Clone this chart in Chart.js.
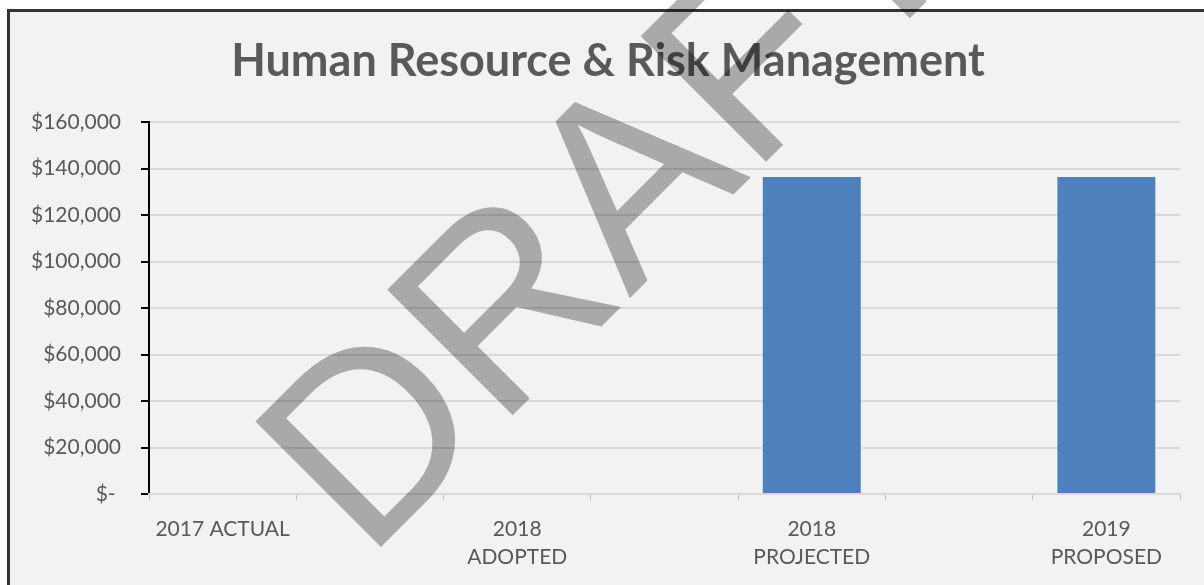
<!DOCTYPE html>
<html>
<head>
<meta charset="utf-8">
<script src="https://cdn.jsdelivr.net/npm/chart.js@4.4.1/dist/chart.umd.min.js"></script>
<style>
    html, body { margin: 0; padding: 0; background: #fff; overflow: hidden; width: 1204px; height: 585px; }
    .frame {
        position: absolute; left: 7px; top: 9px; width: 1220px; height: 600px;
        background: #f2f2f2; border-top: 3px solid #333; border-left: 3px solid #333;
    }
    .chart-box { position: absolute; left: 0; top: 0; width: 1204px; height: 585px; }
</style>
</head>
<body>
<div class="frame"></div>
<div class="chart-box"><canvas id="hrChart"></canvas></div>
<script>
// Chart data
const chartTitle = 'Human Resource & Risk Management';
const categories = ['2017 ACTUAL', '', ['2018', 'ADOPTED'], '', ['2018', 'PROJECTED'], '', ['2019', 'PROPOSED']];
const budgetValues = [0, null, 0, null, 136300, null, 136300];
const yTicks = [0, 20000, 40000, 60000, 80000, 100000, 120000, 140000, 160000];
const watermarkText = 'DRAFT';

document.addEventListener('DOMContentLoaded', function() {
    // Watermark drawn on top of the finished chart
    const watermark = {
        id: 'watermark',
        afterDraw(chart) {
            const ctx = chart.ctx;
            ctx.save();
            ctx.translate(366, 562);
            ctx.rotate(-Math.PI / 4);
            ctx.font = '258px "Liberation Sans", Arial, sans-serif';
            ctx.fillStyle = 'rgba(0, 0, 0, 0.3)';
            ctx.textBaseline = 'alphabetic';
            ctx.textAlign = 'left';
            ctx.fillText(watermarkText, 0, 0);
            ctx.restore();
        }
    };

    const ctx = document.getElementById('hrChart').getContext('2d');

    new Chart(ctx, {
        type: 'bar',
        data: {
            labels: categories,
            datasets: [{
                label: 'Budget',
                data: budgetValues,
                backgroundColor: '#4e80bc',
                borderWidth: 0,
                categoryPercentage: 1,
                barPercentage: 0.665
            }]
        },
        options: {
            responsive: true,
            maintainAspectRatio: false,
            animation: false,
            layout: {
                // left padding shifts the title centre to match the original
                padding: { top: 12, right: 24, bottom: 0, left: 36 }
            },
            plugins: {
                legend: { display: false },
                tooltip: { enabled: false },
                title: {
                    display: true,
                    text: chartTitle,
                    color: '#595959',
                    font: { family: 'Lato', size: 45, weight: 'bold', lineHeight: 1.2 },
                    padding: { top: 22, bottom: 34 }
                }
            },
            scales: {
                y: {
                    min: 0,
                    max: 160000,
                    afterFit: function(scale) {
                        scale.width = 113;
                        // let the labels spill into the left padding
                        scale._computeLabelArea = function() { return undefined; };
                    },
                    afterBuildTicks: function(scale) {
                        scale.ticks = yTicks.map(v => ({ value: v }));
                    },
                    border: { display: true, color: '#000', width: 2 },
                    grid: {
                        color: '#d9d9d9',
                        lineWidth: 2,
                        tickColor: '#000',
                        tickLength: 8
                    },
                    ticks: {
                        padding: 20,
                        color: '#595959',
                        font: { family: 'Lato', size: 21 },
                        callback: function(value) {
                            return value === 0 ? '$- ' : '$' + value.toLocaleString('en-US');
                        }
                    }
                },
                x: {
                    afterFit: function(scale) { scale.height = 91; },
                    border: { display: true, color: '#d9d9d9', width: 2 },
                    grid: {
                        display: true,
                        drawOnChartArea: false,
                        color: '#bfbfbf',
                        tickLength: 6,
                        offset: true
                    },
                    ticks: {
                        padding: 15,
                        maxRotation: 0,
                        autoSkip: false,
                        color: '#595959',
                        font: { family: 'Lato', size: 21, lineHeight: 1.33 }
                    }
                }
            }
        },
        plugins: [watermark]
    });
});
</script>
</body>
</html>
